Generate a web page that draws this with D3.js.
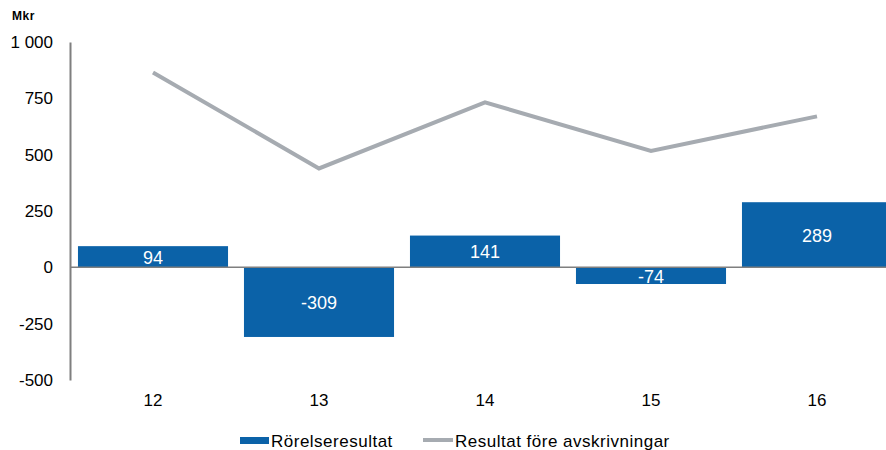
<!DOCTYPE html>
<html>
<head>
<meta charset="utf-8">
<script src="https://cdn.jsdelivr.net/npm/d3@7"></script>
<style>
  body { margin: 0; background: #fff; }
  svg { display: block; font-family: "Liberation Sans", Arial, sans-serif; }
</style>
</head>
<body>
<svg id="chart"></svg>
<script>
// data
const years = ["12", "13", "14", "15", "16"];
const rorelseresultat = [94, -309, 141, -74, 289];
const resultatForeAvskr = [865, 439, 732, 517, 670];
const yTicks = [-500, -250, 0, 250, 500, 750, 1000];
const seriesNames = ["Rörelseresultat", "Resultat före avskrivningar"];

const width = 886, height = 450;
const margin = { top: 42, right: -14, bottom: 70, left: 70 };
const barColor = "#0b62a8";
const lineColor = "#a6abb1";
const axisColor = "#7f7f7f";

const svg = d3.select("#chart").attr("width", width).attr("height", height);

const x = d3.scaleBand()
    .domain(years)
    .range([margin.left, width - margin.right])
    .paddingInner(0.096)
    .paddingOuter(0.048);

const y = d3.scaleLinear()
    .domain([-500, 1000])
    .range([height - margin.bottom, margin.top]);

// bars
svg.append("g").selectAll("rect")
    .data(years)
    .join("rect")
    .attr("x", d => x(d))
    .attr("width", x.bandwidth())
    .attr("y", (d, i) => y(Math.max(0, rorelseresultat[i])))
    .attr("height", (d, i) => Math.abs(y(rorelseresultat[i]) - y(0)))
    .attr("fill", barColor);

// bar labels
svg.append("g").selectAll("text")
    .data(years)
    .join("text")
    .attr("x", d => x(d) + x.bandwidth() / 2)
    .attr("y", (d, i) => (y(rorelseresultat[i]) + y(0)) / 2 + 1)
    .attr("text-anchor", "middle")
    .attr("dominant-baseline", "central")
    .attr("fill", "#fff")
    .style("font-size", "18px")
    .text((d, i) => rorelseresultat[i]);

// zero line
svg.append("line")
    .attr("x1", margin.left).attr("x2", width)
    .attr("y1", y(0)).attr("y2", y(0))
    .attr("stroke", axisColor)
    .attr("stroke-width", 1.5);

// y axis
const fmt = v => v === 1000 ? "1 000" : String(v);
const yAxis = svg.append("g")
    .attr("transform", `translate(${margin.left},0)`)
    .call(d3.axisLeft(y).tickValues(yTicks).tickSize(0).tickPadding(17).tickFormat(fmt));
yAxis.select(".domain").attr("stroke", axisColor).attr("stroke-width", 2);
yAxis.selectAll("text").style("font-size", "17px").attr("fill", "#000")
    .style("font-family", "'Liberation Sans', Arial, sans-serif");

// x labels
const xAxis = svg.append("g")
    .attr("transform", `translate(0,${y(-500)})`)
    .call(d3.axisBottom(x).tickSize(0).tickPadding(14));
xAxis.select(".domain").remove();
xAxis.selectAll("text").style("font-size", "17px").attr("fill", "#000")
    .style("font-family", "'Liberation Sans', Arial, sans-serif");

// line
const line = d3.line()
    .x((d, i) => x(years[i]) + x.bandwidth() / 2)
    .y(d => y(d));
svg.append("path")
    .datum(resultatForeAvskr)
    .attr("d", line)
    .attr("fill", "none")
    .attr("stroke", lineColor)
    .attr("stroke-width", 4);

// unit
svg.append("text")
    .attr("x", 12).attr("y", 20)
    .style("font-size", "12px")
    .style("font-weight", "bold")
    .style("letter-spacing", "0.5px")
    .text("Mkr");

// legend
const legend = svg.append("g");
legend.append("rect")
    .attr("x", 240).attr("y", 437).attr("width", 29).attr("height", 7)
    .attr("fill", barColor);
legend.append("text")
    .attr("x", 271).attr("y", 441)
    .attr("dominant-baseline", "central")
    .style("font-size", "17px")
    .style("letter-spacing", "0.5px")
    .text(seriesNames[0]);
legend.append("line")
    .attr("x1", 423).attr("x2", 453).attr("y1", 440).attr("y2", 440)
    .attr("stroke", lineColor).attr("stroke-width", 4);
legend.append("text")
    .attr("x", 455).attr("y", 441)
    .attr("dominant-baseline", "central")
    .style("font-size", "17px")
    .style("letter-spacing", "0.5px")
    .text(seriesNames[1]);
</script>
</body>
</html>
